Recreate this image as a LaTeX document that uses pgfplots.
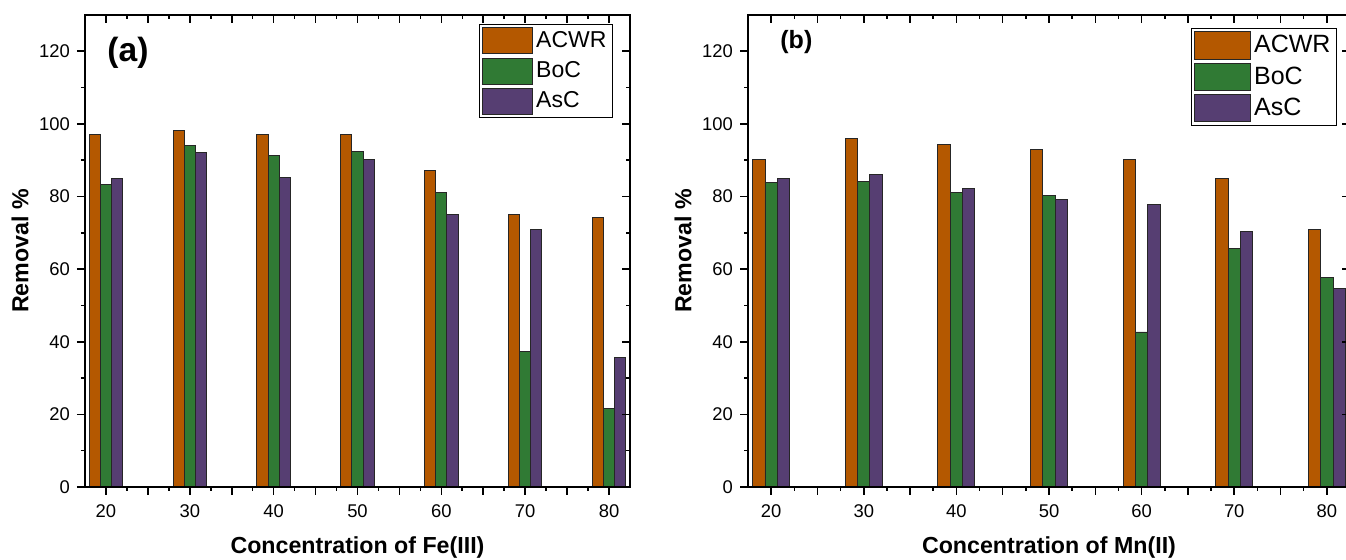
\documentclass[border=0pt]{standalone}
\usepackage{fontspec}
\setmainfont{Liberation Sans}
\usepackage{pgfplots}
\pgfplotsset{compat=1.18}
\definecolor{cacwr}{RGB}{180,88,0}
\definecolor{cboc}{RGB}{48,122,52}
\definecolor{casc}{RGB}{86,62,114}
\pgfplotsset{
  base/.style={
    scale only axis, height=236pt,
    xmin=17.5, xmax=82.5, ymin=0, ymax=130,
    xtick={20,25,...,80}, ytick={0,20,...,120},
    minor x tick num=1, minor y tick num=1,
    axis line style={line width=1pt},
    major tick length=4pt, minor tick length=2pt,
    every tick/.style={line width=0.8pt, black},
    every minor tick/.style={line width=0.8pt, black},
  },
  mainax/.style={
    base,
    tick align=outside, xtick pos=left, ytick pos=left,
    xticklabels={20,,30,,40,,50,,60,,70,,80},
    /pgf/number format/assume math mode=true,
    ticklabel style={font=\fontsize{9.2}{10}\selectfont},
    xticklabel style={yshift=-1.5pt},
    xlabel style={font=\fontsize{11.6}{13}\selectfont\bfseries},
    ylabel style={font=\fontsize{11.6}{13}\selectfont\bfseries},
    legend cell align=left,
    legend image code/.code={\draw[#1, line width=0.5pt] (0pt,-6.5pt) rectangle (25pt,6.5pt);},
    legend style={draw=black, line width=0.5pt, anchor=north east, inner sep=1.5pt,
      row sep=1.6pt, font=\fontsize{11.5}{12}\selectfont,
      nodes={inner sep=1.5pt}},
  },
  mirrorax/.style={
    base,
    tick align=inside, xtick pos=right, ytick pos=right,
    xticklabels={}, yticklabels={},
  },
  barA/.style={ybar, bar width=1.33, bar shift=-1.33, fill=cacwr, draw=black!85, line width=0.45pt},
  barB/.style={ybar, bar width=1.33, bar shift=0, fill=cboc, draw=black!85, line width=0.45pt},
  barC/.style={ybar, bar width=1.33, bar shift=1.33, fill=casc, draw=black!85, line width=0.45pt},
}
\pgfplotstableread{
x   acwr  boc   asc
20  97.1  83.2  85.1
30  98.1  94.1  92.1
40  97.2  91.3  85.2
50  97.2  92.4  90.1
60  87.2  81.1  75.1
70  75.1  37.2  71.0
80  74.2  21.7  35.6
}\datafe
\pgfplotstableread{
x   acwr  boc   asc
20  90.1  84.0  85.1
30  96.1  84.1  86.2
40  94.3  81.1  82.1
50  93.0  80.2  79.2
60  90.1  42.7  77.9
70  85.1  65.8  70.3
80  71.0  57.6  54.8
}\datamn
\begin{document}
\begin{tikzpicture}
\useasboundingbox (0,0) rectangle (673pt,280pt);
\clip (0,0) rectangle (673pt,280pt);
% panel (a)
\begin{axis}[mainax, at={(42.5pt,36.5pt)}, anchor=south west, width=272.5pt,
  xlabel={Concentration of Fe(III)}, ylabel={Removal \%},
  xlabel style={at={(axis description cs:0.5,-0.1292)}, anchor=center},
  ylabel style={at={(axis description cs:-0.1193,0.5)}, anchor=center, rotate=0},
  legend style={at={(rel axis cs:1,1)}, xshift=-8.5pt, yshift=-4.5pt}]
\addplot[barA] table[x=x, y=acwr] {\datafe};
\addplot[barB] table[x=x, y=boc] {\datafe};
\addplot[barC] table[x=x, y=asc] {\datafe};
\legend{ACWR, BoC, AsC}
\end{axis}
\begin{axis}[mirrorax, at={(42.5pt,36.5pt)}, anchor=south west, width=272.5pt]
\end{axis}
% panel (b)
\begin{axis}[mainax, at={(374pt,36.5pt)}, anchor=south west, width=301pt,
  xlabel={Concentration of Mn(II)}, ylabel={Removal \%},
  xlabel style={at={(axis description cs:0.5,-0.1292)}, anchor=center},
  ylabel style={at={(axis description cs:-0.108,0.5)}, anchor=center, rotate=0},
  legend style={at={(rel axis cs:1,1)}, xshift=-6.5pt, yshift=-6.5pt,
    font=\fontsize{12.5}{13}\selectfont},
  legend image code/.code={\draw[#1, line width=0.5pt] (0pt,-6.8pt) rectangle (28pt,6.8pt);}]
\addplot[barA] table[x=x, y=acwr] {\datamn};
\addplot[barB] table[x=x, y=boc] {\datamn};
\addplot[barC] table[x=x, y=asc] {\datamn};
\legend{ACWR, BoC, AsC}
\end{axis}
\begin{axis}[mirrorax, at={(374pt,36.5pt)}, anchor=south west, width=301pt]
\end{axis}
\node[anchor=west, font=\fontsize{16.8}{18}\selectfont\bfseries, inner sep=0pt] at (53.5pt,253.5pt) {(a)};
\node[anchor=west, font=\fontsize{12.5}{14}\selectfont\bfseries, inner sep=0pt] at (390pt,259pt) {(b)};
\end{tikzpicture}
\end{document}
